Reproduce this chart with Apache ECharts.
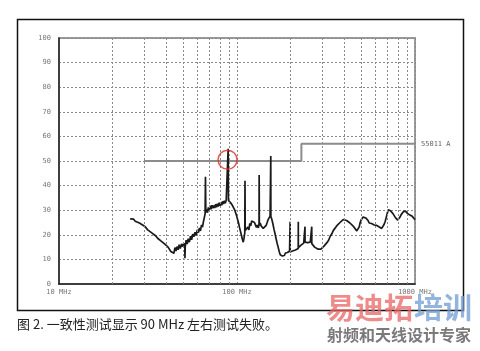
<!DOCTYPE html>
<html><head><meta charset="utf-8">
<script src="https://cdn.jsdelivr.net/npm/echarts@6/dist/echarts.min.js"></script>
<style>html,body{margin:0;padding:0;background:#fff}#c{width:480px;height:351px}</style>
</head><body><div id="c"></div>
<script>
// Frequency (MHz) / level (dBµV) pairs
var spectrum = [
[25.1,26.5],[25.6,26.0],[26.2,26.4],[26.8,25.5],[27.5,25.2],[28.3,24.8],[29.0,24.9],[29.8,23.8],[30.6,23.2],[31.5,22.0],[32.3,22.4],[33.2,20.8],[34.0,20.2],[35.0,19.5],[35.8,18.6],[36.7,18.9],[37.5,17.4],[38.4,17.0],[39.3,16.2],[40.3,15.9],[41.0,15.0],[41.8,14.2],[42.5,13.2],[43.0,12.4],[43.6,13.6],[44.2,12.5],[44.8,14.8],[45.4,13.4],[46.0,15.2],[46.7,13.9],[47.3,16.0],[48.0,14.4],[48.8,16.3],[49.5,15.2],[50.3,16.6],[50.9,15.0],[51.0,10.5],[51.2,15.2],[51.8,17.8],[52.5,16.2],[53.2,18.4],[54.0,17.0],[54.8,19.4],[55.6,18.0],[56.4,20.3],[57.2,19.2],[58.1,21.0],[59.0,19.8],[59.8,22.0],[60.7,20.9],[61.5,22.8],[62.3,21.6],[63.2,24.0],[64.0,23.1],[64.8,25.4],[65.6,26.0],[66.2,28.5],[66.5,43.6],[66.8,29.2],[67.5,30.3],[68.3,29.0],[69.0,31.2],[69.8,30.0],[70.6,31.8],[71.4,30.4],[72.3,32.0],[73.1,30.8],[74.0,31.9],[74.9,30.9],[75.8,32.4],[76.7,31.2],[77.6,32.6],[78.5,31.5],[79.4,33.0],[80.3,31.8],[81.2,33.2],[82.1,32.0],[83.0,33.6],[84.0,32.5],[85.0,33.8],[86.0,32.8],[87.0,34.2],[88.0,33.4],[88.9,34.5],[89.2,55.0],[89.5,34.0],[90.4,33.6],[91.5,34.3],[92.6,32.8],[93.7,33.0],[94.8,31.6],[96.0,31.2],[97.2,30.0],[98.4,29.2],[99.6,27.6],[100.8,26.8],[102.0,24.8],[103.3,23.0],[104.6,21.4],[105.9,19.8],[107.2,18.2],[108.4,17.0],[109.5,18.6],[110.6,20.8],[110.9,42.0],[111.2,21.8],[112.5,22.4],[113.8,21.4],[115.2,23.2],[116.6,22.0],[118.0,24.6],[119.4,23.6],[120.9,25.6],[122.4,24.8],[123.9,26.2],[125.4,25.0],[127.0,24.4],[128.6,23.0],[130.2,24.0],[131.8,22.8],[133.0,24.4],[133.2,44.3],[133.5,23.8],[135.0,24.8],[136.8,23.6],[138.6,24.2],[140.4,22.6],[142.2,23.4],[144.0,22.2],[145.8,23.8],[147.7,25.0],[149.6,26.2],[151.5,26.8],[153.4,27.6],[154.6,28.0],[154.8,52.0],[155.0,27.4],[157.0,26.2],[159.2,24.4],[161.4,22.2],[163.6,20.4],[165.8,18.4],[168.0,16.6],[170.3,15.0],[172.6,13.2],[174.9,11.9],[177.3,12.4],[179.7,11.4],[182.1,12.2],[184.6,11.6],[187.1,12.6],[189.6,11.8],[192.2,12.8],[194.8,12.2],[197.4,13.4],[198.6,12.8],[198.8,25.3],[199.0,13.0],
[201.5,13.6],[205,13.4],[209,14.2],[213,13.8],[217,14.6],[220.8,14.4],[221.0,25.3],[221.2,14.8],[225,15.0],[229,15.8],[233,15.4],[237,16.6],[240.8,16.4],[241.0,23.3],[241.2,17.0],[245,17.4],[249,16.8],[253,17.6],[258,17.0],[262.8,16.6],[263.0,23.3],[263.2,16.4],[268,15.8],[273,15.0],[278,14.6],[284,14.2],[290,14.6],[296,14.2],[302,14.8],[308,15.4],[314,16.2],[320,16.8],[327,17.8],[334,19.4],[341,20.4],[348,21.8],[355,22.6],[363,23.6],[371,24.4],[379,25.0],[387,25.6],[395,26.2],[404,26.4],[413,25.8],[422,25.6],[431,24.8],[441,24.6],[451,23.4],[461,22.6],[471,21.6],[480,21.2],[486,23.2],[492,25.0],[498,26.0],[504,26.4],[511,27.2],[518,26.6],[524,27.6],[530,26.8],[537,26.2],[545,25.8],[553,24.8],[561,25.2],[570,24.6],[580,24.4],[590,24.0],[600,24.2],[610,23.8],[620,23.6],[630,23.2],[640,22.8],[650,22.6],[660,23.4],[670,24.2],[680,25.4],[690,27.2],[700,29.0],[708,30.2],[716,29.6],[728,29.8],[740,29.0],[752,28.6],[764,28.0],[776,27.0],[788,26.4],[800,26.0],[812,26.6],[824,27.2],[836,28.2],[848,28.8],[860,29.4],[872,29.0],[884,29.6],[898,29.2],[910,28.6],[922,28.8],[937,28.0],[950,27.4],[962,27.6],[975,26.8],[988,26.6],[1000,26.2]
];
var limitLine = [[30,50],[230,50],[230,57],[1000,57]];
var limitName = '55011 A';
var failMark = [[88.5,50.5]];
var minorFreqs = [20,30,40,50,60,70,80,90,200,300,400,500,600,700,800,900];
var caption = '图 2. 一致性测试显示 90 MHz 左右测试失败。';

var chart = echarts.init(document.getElementById('c'), null, {renderer:'canvas'});
var labelFont = {fontSize:7, color:'#777', fontFamily:'DejaVu Sans Mono'};
chart.setOption({
  animation:false,
  backgroundColor:'#fff',
  grid:{left:59, top:38, right:65, bottom:67, show:true, borderColor:'#9a9a9a', borderWidth:2},
  xAxis:{type:'log', logBase:10, min:10, max:1000,
    axisLine:{show:true, lineStyle:{color:'#222', width:1.5}},
    axisTick:{show:false},
    axisLabel:Object.assign({formatter:function(v){return v+' MHz';}, margin:5, showMinLabel:true, showMaxLabel:true}, labelFont),
    splitLine:{show:true, lineStyle:{color:'#8a8a8a', type:[2,2], width:1}}
  },
  yAxis:{type:'value', min:0, max:100, interval:10,
    axisLine:{show:true, lineStyle:{color:'#222', width:1.5}},
    axisTick:{show:false},
    axisLabel:Object.assign({margin:8}, labelFont),
    splitLine:{show:true, lineStyle:{color:'#8a8a8a', type:[2,2], width:1}}
  },
  series:[
    {type:'line', data:[], silent:true,
     markLine:{silent:true, symbol:'none', label:{show:false},
       lineStyle:{color:'#8a8a8a', type:[2,2], width:1},
       data:minorFreqs.map(function(f){return {xAxis:f};})}},
    {type:'line', data:limitLine, symbol:'none', silent:true,
     lineStyle:{color:'#8c8c8c', width:2},
     endLabel:{show:true, formatter:limitName, fontSize:7, color:'#666', fontFamily:'DejaVu Sans Mono', distance:6}},
    {type:'line', data:spectrum, symbol:'none', silent:true,
     lineStyle:{color:'#1a1a1a', width:1.7}},
    {type:'scatter', data:failMark, symbol:'circle', symbolSize:19, silent:true, z:10,
     itemStyle:{color:'rgba(0,0,0,0)', borderColor:'#e0302a', borderWidth:1.5}}
  ],
  graphic:[
    {type:'rect', shape:{x:17.5, y:19.5, width:446, height:291}, style:{fill:'none', stroke:'#111', lineWidth:1.5}, z:-1},
    {type:'text', left:17, top:318, style:{text:caption, font:'13px "Noto Sans CJK SC"', fill:'#222'}},
    {type:'text', left:326, top:293, z:100, style:{text:'易迪拓', font:'bold 29px "Noto Sans CJK SC"', fill:'rgba(232,100,100,0.75)'}},
    {type:'text', left:414, top:293, z:100, style:{text:'培训', font:'bold 29px "Noto Sans CJK SC"', fill:'rgba(110,155,210,0.75)'}},
    {type:'text', left:327, top:327, z:100, style:{text:'射频和天线设计专家', font:'bold 16px "Noto Sans CJK SC"', fill:'#7a7a7a'}}
  ]
});
</script>
</body></html>
